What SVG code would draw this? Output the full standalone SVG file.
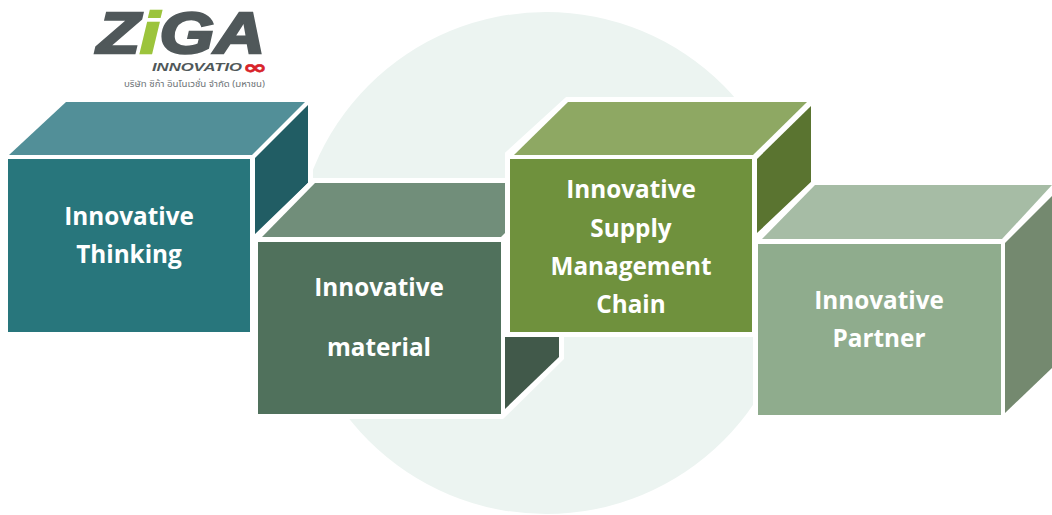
<svg xmlns="http://www.w3.org/2000/svg" width="1052" height="515" viewBox="0 0 1052 515">
<style>
.t{font-family:"Open Sans","Liberation Sans",sans-serif;font-weight:700;font-size:24.300px;fill:#fff;text-anchor:middle}
.s{fill:#fff;stroke:#fff;stroke-width:10;stroke-linejoin:miter}
</style>
<rect width="1052" height="515" fill="#fff"/>
<circle id="backdrop" cx="546" cy="263" r="251" fill="#ecf4f1"/>
<g id="cube-thinking">
<polygon class="s" points="8,158 66,102 308,102 308,183 250,236 250,332 8,332"/>
<polygon fill="#528f98" points="9,155 66,102 305,102 252,155"/>
<polygon fill="#215d64" points="255,158 308,105 308,183 255,236"/>
<rect x="8" y="159" width="242" height="173" fill="#28767c"/>
<text class="t" x="129" y="225">Innovative</text>
<text class="t" x="129" y="263">Thinking</text>
</g>
<g id="cube-material">
<polygon class="s" points="258,238 315,183 505,183 505,337 559,337 559,357 501,414 258,414"/>
<polygon fill="#718e7a" points="262,237 315,183 505,183 505,233 501,237"/>
<polygon fill="#41594a" points="505,337 559,337 559,357 505,409"/>
<rect x="258" y="242" width="243" height="172" fill="#50715c"/>
<text class="t" x="379" y="296">Innovative</text>
<text class="t" x="379" y="356">material</text>
</g>
<g id="cube-supply">
<polygon class="s" points="510,155 568,102 811,102 811,183 752,236 752,332 510,332"/>
<polygon fill="#8ea863" points="514,155 568,102 807,102 753,155"/>
<polygon fill="#5a7430" points="757,159 811,106 811,183 757,236"/>
<rect x="510" y="159" width="242" height="173" fill="#6f913d"/>
<text class="t" x="631" y="198">Innovative</text>
<text class="t" x="631" y="237">Supply</text>
<text class="t" x="631" y="275">Management</text>
<text class="t" x="631" y="313">Chain</text>
</g>
<g id="cube-partner">
<polygon class="s" points="758,239 815,185 1052,185 1052,368 1001,415 758,415"/>
<polygon fill="#a6bca5" points="762,239 815,185 1052,185 1002,239"/>
<polygon fill="#74896f" points="1005,243 1052,196 1052,368 1005,413"/>
<rect x="758" y="244" width="243" height="171" fill="#8fac8d"/>
<text class="t" x="879" y="309">Innovative</text>
<text class="t" x="879" y="347">Partner</text>
</g>
<g id="logo">
<text x="97" y="53" font-family="'Liberation Sans',sans-serif" font-weight="700" font-style="italic" font-size="58" fill="#50585a" stroke="#50585a" stroke-width="2.500" textLength="168" lengthAdjust="spacingAndGlyphs">Z<tspan fill="#9cc43c" stroke="#9cc43c">i</tspan>GA</text>
<text x="152" y="71" font-family="'Liberation Sans',sans-serif" font-weight="700" font-style="italic" font-size="11" fill="#50585a" textLength="90" lengthAdjust="spacingAndGlyphs">INNOVATIO</text>
<text x="243" y="74" font-family="'DejaVu Sans',sans-serif" font-weight="700" font-size="19" fill="#d8232a" stroke="#d8232a" stroke-width="0.600" textLength="24" lengthAdjust="spacingAndGlyphs">∞</text>
<text x="124" y="87" font-family="'Noto Sans','Noto Sans Thai','DejaVu Sans',sans-serif" font-size="9.500" fill="#6d7377" textLength="141" lengthAdjust="spacingAndGlyphs">บริษัท ซิก้า อินโนเวชั่น จำกัด (มหาชน)</text>
</g>
</svg>
